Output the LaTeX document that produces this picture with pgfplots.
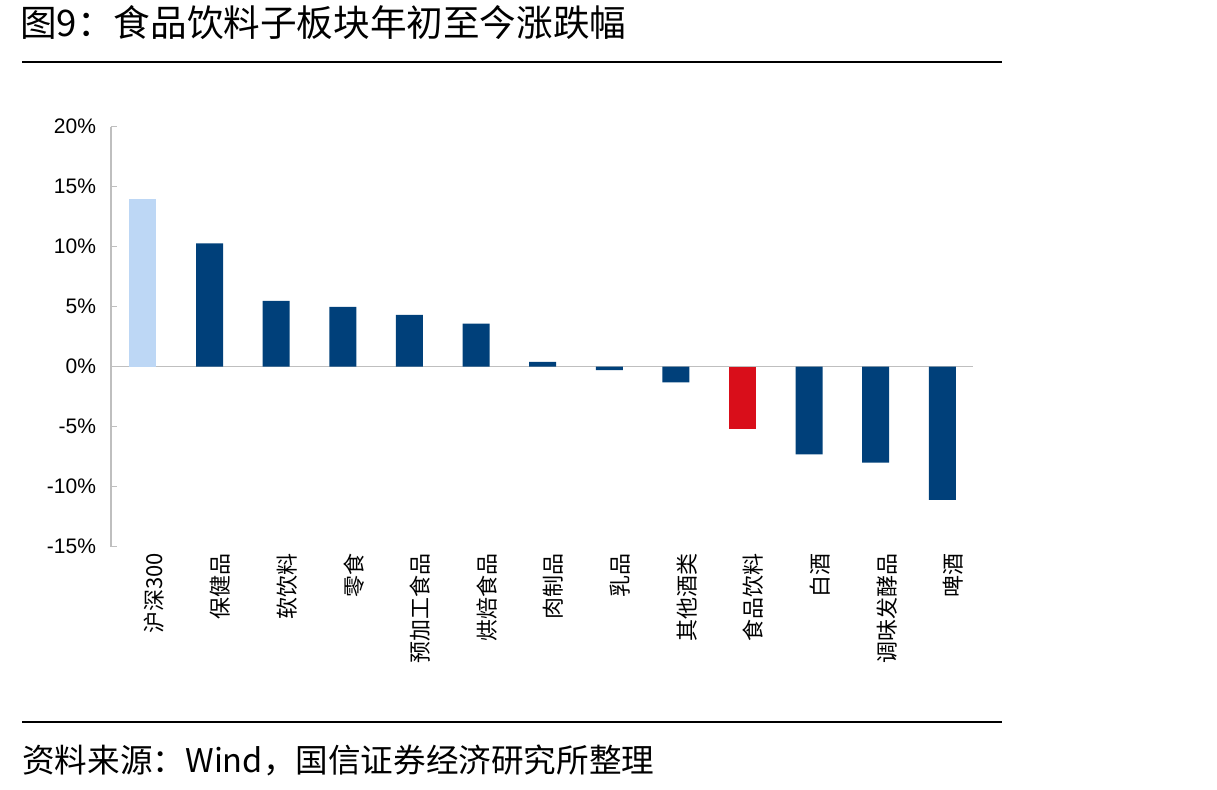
\documentclass[border=0pt]{standalone}
\usepackage{pgfplots}
\pgfplotsset{compat=1.18}
\usepackage{fontspec}
\setmainfont{Liberation Sans}
\newfontfamily\cjk{Noto Sans CJK SC}
\definecolor{darkblue}{RGB}{0,64,122}
\definecolor{lightblue}{RGB}{189,215,245}
\definecolor{redbar}{RGB}{217,14,26}
\definecolor{axisgray}{RGB}{191,191,191}
\begin{document}
\begin{tikzpicture}
\useasboundingbox (0,0) rectangle (608.5pt,394.5pt);
\node[anchor=base west,inner sep=0pt] at (10pt,376pt) {\cjk\fontsize{18.3}{18.3}\selectfont 图9：食品饮料子板块年初至今涨跌幅};
\draw[line width=1pt] (11pt,363.5pt) -- (501pt,363.5pt);
\draw[line width=1pt] (11pt,33.5pt) -- (501pt,33.5pt);
\node[anchor=base west,inner sep=0pt] at (11pt,8.5pt) {\cjk\fontsize{16.3}{16.3}\selectfont 资料来源：Wind，国信证券经济研究所整理};
\begin{axis}[
  at={(55.5pt,121.15pt)}, anchor=south west,
  scale only axis, width=431pt, height=210pt,
  xmin=-0.48, xmax=12.46, ymin=-15, ymax=20,
  axis y line=left, axis x line=bottom,
  x axis line style={draw=none},
  y axis line style={draw=axisgray, line width=0.6pt, -},
  ytick={-15,-10,...,20},
  yticklabel={\pgfmathprintnumber{\tick}\%},
  /pgf/number format/assume math mode=true,
  yticklabel style={font=\fontsize{10.5}{10.5}\selectfont, anchor=east, xshift=-4pt},
  ytick style={draw=axisgray, line width=0.6pt},
  tick align=inside, major tick length=3pt,
  xtick={0,...,12},
  xticklabels={沪深300,保健品,软饮料,零食,预加工食品,烘焙食品,肉制品,乳品,其他酒类,食品饮料,白酒,调味发酵品,啤酒},
  xticklabel style={font=\cjk\fontsize{11}{11}\selectfont, rotate=90, anchor=east, inner sep=0pt, yshift=-5.5pt},
  xtick style={draw=none},
  ybar, bar width=13.5pt,
  clip=false,
]
\draw[axisgray, line width=0.6pt] (axis cs:-0.48,0) -- (axis cs:12.46,0);
\addplot[fill=lightblue, draw=none, bar shift=0pt] coordinates {(0,14.0)};
\addplot[fill=darkblue, draw=none, bar shift=0pt] coordinates {(1,10.27) (2,5.48) (3,4.98) (4,4.31) (5,3.6) (6,0.4) (7,-0.28) (8,-1.3) (10,-7.3) (11,-8.0) (12,-11.1)};
\addplot[fill=redbar, draw=none, bar shift=0pt] coordinates {(9,-5.2)};
\end{axis}
\end{tikzpicture}
\end{document}
